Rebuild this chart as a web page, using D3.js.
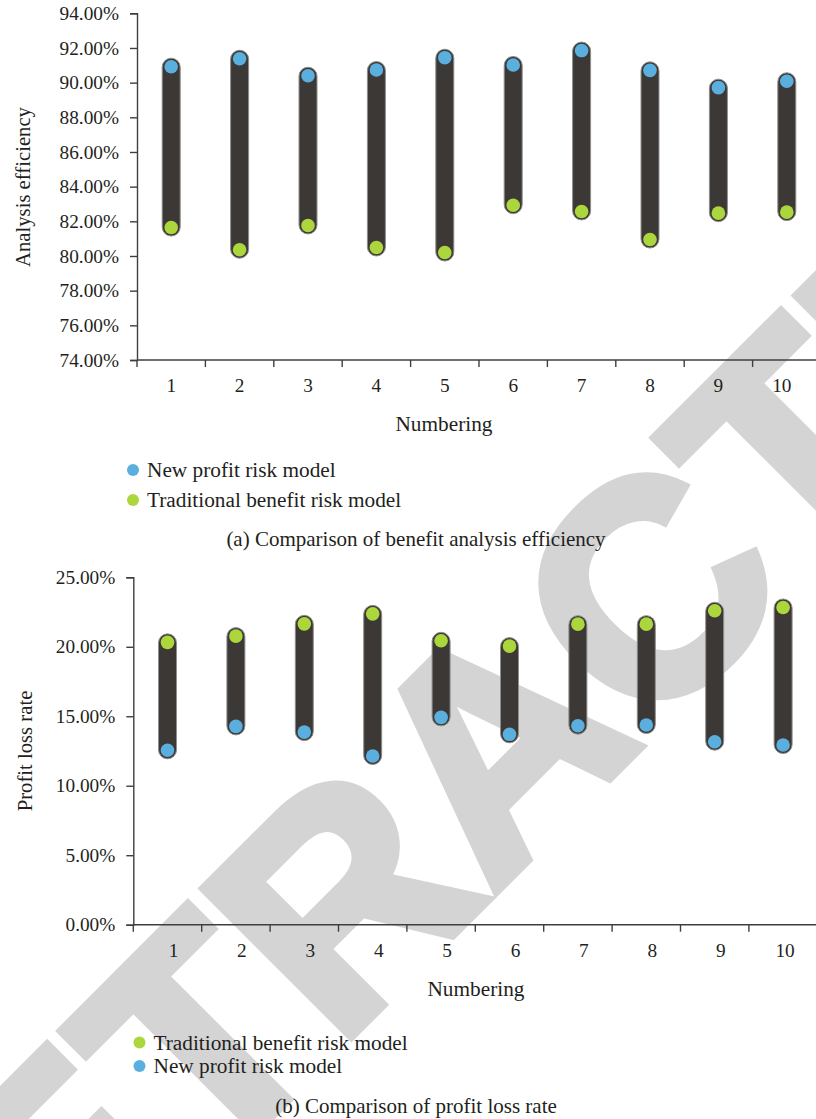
<!DOCTYPE html>
<html>
<head>
<meta charset="utf-8">
<script src="https://cdn.jsdelivr.net/npm/d3@7/dist/d3.min.js"></script>
<style>
  html, body { margin: 0; padding: 0; background: #ffffff; }
  svg { display: block; }
  text { font-family: "Liberation Serif", "Times New Roman", serif; fill: #231f20; }
</style>
</head>
<body>
<svg id="fig" width="816" height="1119"></svg>
<script>
// Sample numbering shared by both panels
const categories = ["1", "2", "3", "4", "5", "6", "7", "8", "9", "10"];

// Panel (a): benefit analysis efficiency (%)
const efficiencyNew = [90.92, 91.38, 90.40, 90.73, 91.44, 91.02, 91.85, 90.71, 89.71, 90.08];
const efficiencyTraditional = [81.64, 80.36, 81.76, 80.49, 80.20, 82.93, 82.57, 80.95, 82.47, 82.53];
const efficiencyTicks = [74, 76, 78, 80, 82, 84, 86, 88, 90, 92, 94];

// Panel (b): profit loss rate (%)
const lossTraditional = [20.32, 20.77, 21.65, 22.37, 20.43, 20.05, 21.63, 21.63, 22.59, 22.83];
const lossNew = [12.55, 14.27, 13.86, 12.14, 14.92, 13.70, 14.32, 14.37, 13.17, 12.93];
const lossTicks = [0, 5, 10, 15, 20, 25];

const seriesNames = { fresh: "New profit risk model", old: "Traditional benefit risk model" };
const captions = ["(a) Comparison of benefit analysis efficiency", "(b) Comparison of profit loss rate"];
const axisTitles = { x: "Numbering", ya: "Analysis efficiency", yb: "Profit loss rate" };
const watermarkText = "RETRACTED";

const COLORS = { blue: "#5aafdf", green: "#acd73c", bar: "#3c3835", barEdge: "#8f8f8f", axis: "#3f3f3f", mark: "#d4d4d4" };

const svg = d3.select("#fig");

// Diagonal watermark, drawn first so the figure sits on top of it
svg.append("text")
  .attr("transform", "translate(492,742) rotate(-45)")
  .attr("text-anchor", "middle")
  .attr("dy", "0.358em")
  .style("font-family", "'Liberation Sans', Arial, sans-serif")
  .style("font-weight", "bold")
  .style("font-size", "302px")
  .style("fill", COLORS.mark)
  .style("stroke", COLORS.mark)
  .style("stroke-width", "10px")
  .style("stroke-linejoin", "miter")
  .text(watermarkText);

function panel(cfg) {
  const g = svg.append("g");
  const x = d3.scaleBand().domain(categories).range([cfg.x0, cfg.x0 + 684]).padding(0);
  const y = d3.scaleLinear().domain(cfg.domain).range([cfg.yBottom, cfg.yTop]);

  // y axis
  const yAxis = g.append("g")
    .attr("transform", `translate(${cfg.x0},0)`)
    .call(d3.axisLeft(y).tickValues(cfg.ticks).tickSize(7).tickPadding(11)
      .tickFormat(d => d.toFixed(2) + "%"));
  yAxis.select(".domain").attr("stroke", COLORS.axis).attr("stroke-width", 1.4);
  yAxis.selectAll(".tick line").attr("stroke", COLORS.axis).attr("stroke-width", 1.4);
  yAxis.selectAll(".tick text")
    .style("font-family", "'Liberation Serif', serif")
    .style("font-size", "19.3px").attr("fill", "#231f20");

  // x axis: baseline, boundary ticks, centred labels
  g.append("line")
    .attr("x1", cfg.x0).attr("x2", 816)
    .attr("y1", cfg.yBottom).attr("y2", cfg.yBottom)
    .attr("stroke", COLORS.axis).attr("stroke-width", 1.4);
  g.selectAll(".bt").data(categories).join("line")
    .attr("x1", d => x(d)).attr("x2", d => x(d))
    .attr("y1", cfg.yBottom).attr("y2", cfg.yBottom + 7)
    .attr("stroke", COLORS.axis).attr("stroke-width", 1.4);
  g.selectAll(".xl").data(categories).join("text")
    .attr("x", d => x(d) + x.bandwidth() / 2 + cfg.labelShift + (d === "10" ? cfg.tenShift : 0))
    .attr("y", cfg.yBottom + 32)
    .attr("text-anchor", "middle")
    .style("font-size", "19.3px")
    .text(d => d);

  // Range pills between the two models
  const rows = categories.map((c, i) => ({ c, hi: Math.max(cfg.a[i], cfg.b[i]), lo: Math.min(cfg.a[i], cfg.b[i]), a: cfg.a[i], b: cfg.b[i] }));
  const half = 9, ext = 8.5;
  g.selectAll(".pill").data(rows).join("rect")
    .attr("x", d => x(d.c) + x.bandwidth() / 2 - half)
    .attr("width", half * 2)
    .attr("y", d => y(d.hi) - ext)
    .attr("height", d => y(d.lo) - y(d.hi) + ext * 2)
    .attr("rx", half).attr("ry", half)
    .attr("fill", COLORS.bar).attr("stroke", COLORS.barEdge).attr("stroke-width", 1);

  g.selectAll(".pa").data(rows).join("circle")
    .attr("cx", d => x(d.c) + x.bandwidth() / 2)
    .attr("cy", d => y(d.a)).attr("r", 6.8)
    .attr("fill", cfg.aColor);
  g.selectAll(".pb").data(rows).join("circle")
    .attr("cx", d => x(d.c) + x.bandwidth() / 2)
    .attr("cy", d => y(d.b)).attr("r", 6.8)
    .attr("fill", cfg.bColor);

  // Axis titles
  g.append("text")
    .attr("transform", `translate(${cfg.yTitleX},${cfg.yTitleY}) rotate(-90)`)
    .attr("text-anchor", "middle").attr("dy", "0.35em")
    .style("font-size", "20.7px")
    .text(cfg.yTitle);
  g.append("text")
    .attr("x", cfg.xTitleX).attr("y", cfg.yBottom + 71)
    .attr("text-anchor", "middle")
    .style("font-size", "21.3px")
    .text(axisTitles.x);

  // Legend
  cfg.legend.forEach((item, i) => {
    const ly = cfg.legendY + i * cfg.legendGap;
    g.append("circle").attr("cx", cfg.legendX).attr("cy", ly).attr("r", 6).attr("fill", item.color);
    g.append("text").attr("x", cfg.legendX + 14).attr("y", ly).attr("dy", "0.33em")
      .style("font-size", "21.3px").text(item.name);
  });

  // Caption
  g.append("text")
    .attr("x", 416).attr("y", cfg.captionY)
    .attr("text-anchor", "middle").attr("dy", "0.33em")
    .style("font-size", "21px")
    .text(cfg.caption);
}

panel({
  x0: 137, yTop: 13.3, yBottom: 360, domain: [74, 94], ticks: efficiencyTicks,
  a: efficiencyNew, b: efficiencyTraditional, aColor: COLORS.blue, bColor: COLORS.green,
  labelShift: 0, tenShift: -5,
  yTitle: axisTitles.ya, yTitleX: 23, yTitleY: 187, xTitleX: 444,
  legend: [{ name: seriesNames.fresh, color: COLORS.blue }, { name: seriesNames.old, color: COLORS.green }],
  legendX: 133, legendY: 470, legendGap: 30,
  caption: captions[0], captionY: 539
});

panel({
  x0: 133.3, yTop: 577.3, yBottom: 924.7, domain: [0, 25], ticks: lossTicks,
  a: lossNew, b: lossTraditional, aColor: COLORS.blue, bColor: COLORS.green,
  labelShift: 6, tenShift: -4,
  yTitle: axisTitles.yb, yTitleX: 25, yTitleY: 751, xTitleX: 476,
  legend: [{ name: seriesNames.old, color: COLORS.green }, { name: seriesNames.fresh, color: COLORS.blue }],
  legendX: 139.5, legendY: 1042.5, legendGap: 23.5,
  caption: captions[1], captionY: 1106
});
</script>
</body>
</html>
